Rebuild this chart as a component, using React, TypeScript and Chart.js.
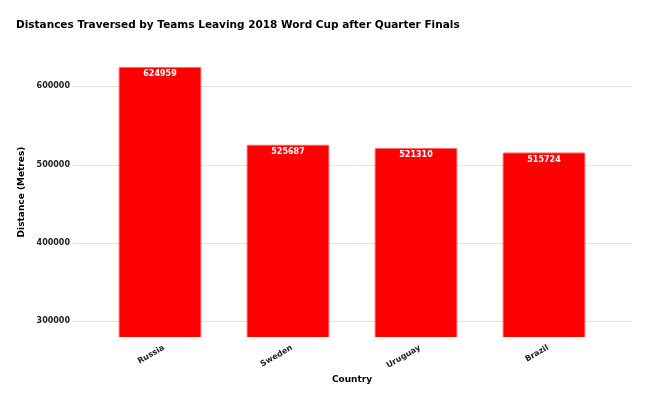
import React, { useEffect, useRef } from "react";
import { Chart, registerables } from "chart.js";

Chart.register(...registerables);

const categories = ["Russia", "Sweden", "Uruguay", "Brazil"];
const distances = [624959, 525687, 521310, 515724];
const yTicks = [300000, 400000, 500000, 600000];

const FONT = "'DejaVu Sans', Verdana, sans-serif";

const gridPlugin = {
  id: "extendedGrid",
  beforeDatasetsDraw(chart: any) {
    const { ctx, chartArea, scales } = chart;
    const y = scales.y;
    ctx.save();
    ctx.strokeStyle = "#e3e3e3";
    ctx.lineWidth = 1;
    yTicks.forEach((v) => {
      const py = Math.round(y.getPixelForValue(v)) + 0.5;
      ctx.beginPath();
      ctx.moveTo(chartArea.left - 23, py);
      ctx.lineTo(chartArea.right + 24, py);
      ctx.stroke();
    });
    ctx.restore();
  },
};

const labelPlugin = {
  id: "barLabels",
  afterDatasetsDraw(chart: any) {
    const { ctx } = chart;
    const meta = chart.getDatasetMeta(0);
    ctx.save();
    ctx.fillStyle = "#ffffff";
    ctx.font = `bold 8px ${FONT}`;
    ctx.textAlign = "center";
    ctx.textBaseline = "middle";
    meta.data.forEach((bar: any, i: number) => {
      ctx.fillText(String(distances[i]), bar.x, bar.y + 7.5);
    });
    ctx.restore();
  },
};

export default function App() {
  const ref = useRef<HTMLCanvasElement>(null);
  useEffect(() => {
    if (!ref.current) return;
    const chart = new Chart(ref.current, {
      type: "bar",
      data: {
        labels: categories,
        datasets: [
          {
            data: distances,
            backgroundColor: "#ff0000",
            borderColor: "#ff6a6a",
            borderWidth: 1,
            borderRadius: 2,
            borderSkipped: "bottom",
            barPercentage: 0.65,
            categoryPercentage: 1,
          },
        ],
      },
      options: {
        responsive: false,
        animation: false,
        layout: { padding: { left: 16, right: 42, top: 0, bottom: 14 } },
        plugins: {
          legend: { display: false },
          tooltip: { enabled: false },
          title: {
            display: true,
            text: "Distances Traversed by Teams Leaving 2018 Word Cup after Quarter Finals",
            align: "start",
            color: "#000000",
            font: { family: FONT, size: 10.5, weight: "bold" },
            padding: { top: 18.7, bottom: 15.7 },
          },
        },
        scales: {
          x: {
            grid: { display: false, drawTicks: false },
            border: { display: false },
            ticks: {
              color: "#222222",
              font: { family: FONT, size: 8, weight: "bold" },
              minRotation: 30,
              maxRotation: 30,
              padding: 6,
              labelOffset: 4,
            },
            title: {
              display: true,
              text: "Country",
              color: "#000000",
              font: { family: FONT, size: 9, weight: "bold" },
              padding: { top: 0, bottom: 4 },
            },
            afterFit: (scale: any) => {
              scale.height = 52;
            },
          },
          y: {
            min: 280000,
            max: 650000,
            grid: { display: false, drawTicks: false },
            border: { display: false },
            afterBuildTicks: (scale: any) => {
              scale.ticks = yTicks.map((v) => ({ value: v }));
            },
            ticks: {
              color: "#222222",
              font: { family: FONT, size: 8, weight: "bold" },
              padding: 26,
              callback: (v: any) => String(v),
            },
            title: {
              display: true,
              text: "Distance (Metres)",
              color: "#000000",
              font: { family: FONT, size: 9, weight: "bold" },
              padding: { top: 0, bottom: 0 },
            },
            afterFit: (scale: any) => {
              scale.width = 80;
            },
          },
        },
      },
      plugins: [gridPlugin, labelPlugin],
    });
    return () => chart.destroy();
  }, []);
  return (
    <div style={{ position: "fixed", left: 0, top: 0, width: 650, height: 403, background: "#ffffff" }}>
      <canvas ref={ref} width={650} height={403} />
    </div>
  );
}
